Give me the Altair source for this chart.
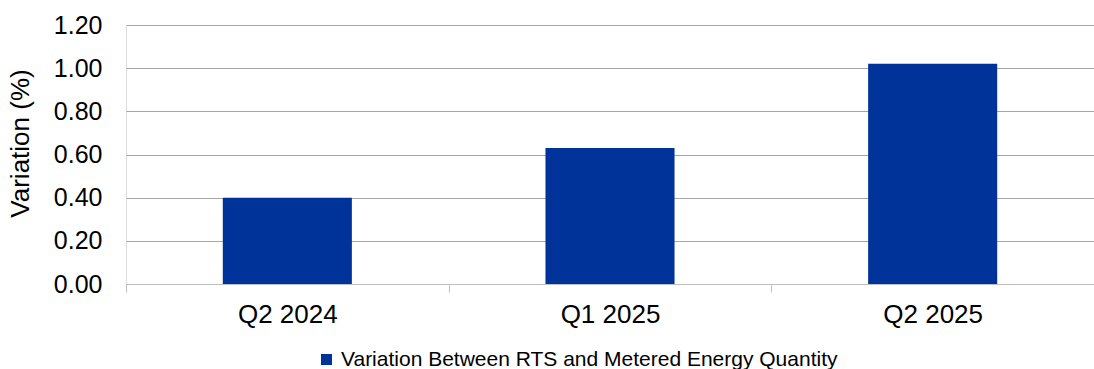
import altair as alt
import pandas as pd

quarters = ["Q2 2024", "Q1 2025", "Q2 2025"]
variation = [0.40, 0.63, 1.02]
series_name = "Variation Between RTS and Metered Energy Quantity"

df = pd.DataFrame({
    "quarter": quarters,
    "value": variation,
    "series": [series_name] * len(quarters),
})

FONT = "Liberation Sans"

bars = alt.Chart(df).mark_bar(color="#003399", width=alt.RelativeBandSize(0.4)).encode(
    x=alt.X(
        "quarter:N",
        sort=quarters,
        scale=alt.Scale(paddingInner=0, paddingOuter=0),
        axis=alt.Axis(
            title=None,
            labelAngle=0,
            labelFont=FONT,
            labelFontSize=26,
            labelColor="#000000",
            labelPadding=9,
            tickBand="extent",
            tickSize=8,
            tickColor="#bfbfbf",
            tickWidth=1,
            domainColor="#bfbfbf",
            domainWidth=1,
            grid=False,
        ),
    ),
    y=alt.Y(
        "value:Q",
        scale=alt.Scale(domain=[0, 1.2], nice=False),
        axis=alt.Axis(
            title="Variation (%)",
            titleFont=FONT,
            titleFontSize=26,
            titleFontWeight="normal",
            titleColor="#000000",
            titleAngle=270,
            titleAlign="center",
            titleBaseline="alphabetic",
            titleX=-98,
            titleY=118,
            values=[0, 0.2, 0.4, 0.6, 0.8, 1.0, 1.2],
            format=".2f",
            labelFont=FONT,
            labelFontSize=25,
            labelColor="#000000",
            labelPadding=24,
            ticks=False,
            domain=False,
            grid=True,
            gridColor="#a6a6a6",
            gridWidth=1,
        ),
    ),
    color=alt.Color(
        "series:N",
        scale=alt.Scale(range=["#003399"]),
        legend=alt.Legend(
            title=None,
            orient="none",
            legendX=190,
            legendY=324,
            direction="horizontal",
            symbolType="square",
            symbolSize=121,
            symbolStrokeWidth=0,
            symbolOpacity=1,
            labelFont=FONT,
            labelFontSize=21,
            labelColor="#000000",
            labelOffset=4,
            labelLimit=0,
            padding=0,
        ),
    ),
)

chart = bars.properties(
    width=968,
    height=259,
    autosize=alt.AutoSizeParams(type="none"),
    padding={"left": 126, "top": 25, "right": 0, "bottom": 85},
).configure_view(stroke=None).configure(background="white")

chart.save("out.html", embed_options={"renderer": "svg", "actions": False})
